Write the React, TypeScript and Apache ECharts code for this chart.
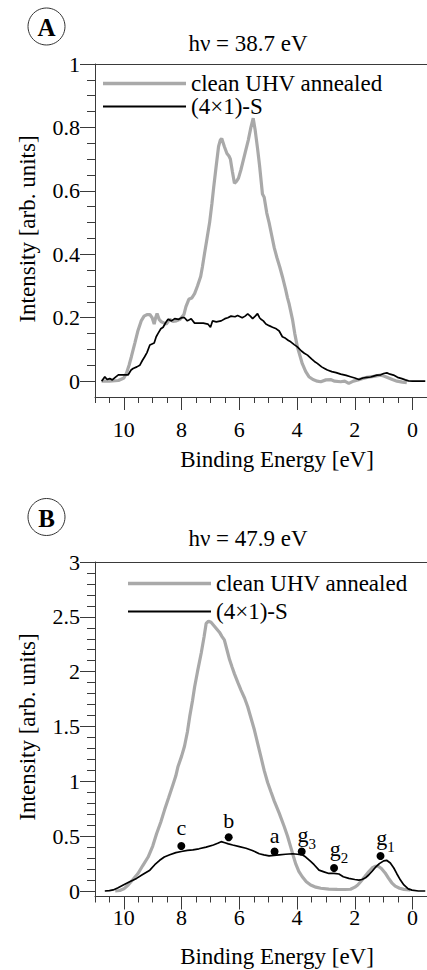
import React, { useEffect, useRef } from 'react';
import * as echarts from 'echarts';

const FONT = 'Liberation Serif, Times New Roman, Times, serif';
const GRAY = '#a9a9a9';
const AXIS = '#3a3a3a';

const seriesNames = ['clean UHV annealed', '(4×1)-S'];
const photonTitles = ['hν = 38.7 eV', 'hν = 47.9 eV'];
const panelLetters = ['A', 'B'];

const xMajorTicks = [0, 2, 4, 6, 8, 10];
const yMajorTicksA = [0, 0.2, 0.4, 0.6, 0.8, 1];
const yMajorTicksB = [0, 0.5, 1, 1.5, 2, 2.5, 3];

// Panel A, hv = 38.7 eV : [binding energy, intensity]
const cleanA: [number, number][] = [
  [10.77, 0.0], [10.5, 0.0], [10.19, 0.002], [10.0, 0.01], [9.91, 0.025], [9.82, 0.05], [9.74, 0.077],
  [9.62, 0.12], [9.51, 0.16], [9.4, 0.19], [9.3, 0.205], [9.2, 0.21], [9.1, 0.21], [9.02, 0.2],
  [8.95, 0.18], [8.9, 0.2], [8.85, 0.213], [8.78, 0.195], [8.7, 0.187], [8.6, 0.183], [8.53, 0.18],
  [8.45, 0.19], [8.41, 0.195], [8.3, 0.188], [8.18, 0.19], [8.05, 0.195], [7.92, 0.21], [7.85, 0.235],
  [7.75, 0.258], [7.65, 0.262], [7.55, 0.276], [7.45, 0.3], [7.34, 0.33], [7.28, 0.36], [7.21, 0.4],
  [7.12, 0.45], [7.03, 0.5], [6.95, 0.56], [6.89, 0.61], [6.8, 0.68], [6.72, 0.74], [6.66, 0.76],
  [6.61, 0.765], [6.52, 0.74], [6.43, 0.718], [6.36, 0.71], [6.31, 0.7], [6.24, 0.66], [6.17, 0.624],
  [6.1, 0.63], [6.03, 0.64], [5.95, 0.665], [5.89, 0.687], [5.8, 0.72], [5.69, 0.76], [5.6, 0.8],
  [5.52, 0.829], [5.45, 0.79], [5.37, 0.734], [5.3, 0.68], [5.2, 0.59], [5.14, 0.58], [5.05, 0.53],
  [4.97, 0.5], [4.88, 0.46], [4.79, 0.42], [4.7, 0.39], [4.6, 0.36], [4.51, 0.33], [4.4, 0.29],
  [4.33, 0.262], [4.28, 0.245], [4.22, 0.22], [4.16, 0.195], [4.08, 0.15], [3.99, 0.108], [3.9, 0.08],
  [3.82, 0.055], [3.7, 0.03], [3.59, 0.014], [3.45, 0.005], [3.3, 0.0], [3.18, -0.002], [3.0, 0.004],
  [2.84, 0.005], [2.7, 0.0], [2.49, -0.002], [2.35, 0.0], [2.21, -0.007], [2.05, 0.0], [1.92, 0.003],
  [1.75, 0.008], [1.58, 0.012], [1.35, 0.015], [1.11, 0.019], [1.0, 0.016], [0.89, 0.012], [0.7, 0.005],
  [0.54, 0.0], [0.35, -0.003], [0.2, -0.005],
];
const sulfurA: [number, number][] = [
  [10.77, 0.0], [10.66, 0.014], [10.58, 0.005], [10.49, 0.008], [10.4, 0.004], [10.3, 0.012], [10.19, 0.02],
  [10.0, 0.02], [9.85, 0.02], [9.75, 0.035], [9.68, 0.04], [9.55, 0.045], [9.45, 0.05], [9.36, 0.065],
  [9.28, 0.077], [9.2, 0.09], [9.1, 0.114], [8.95, 0.12], [8.88, 0.14], [8.82, 0.15], [8.72, 0.165],
  [8.64, 0.17], [8.55, 0.185], [8.47, 0.195], [8.35, 0.19], [8.24, 0.197], [8.1, 0.195], [8.0, 0.2],
  [7.9, 0.2], [7.8, 0.19], [7.67, 0.197], [7.55, 0.183], [7.4, 0.183], [7.25, 0.183], [7.09, 0.18],
  [7.0, 0.17], [6.93, 0.19], [6.8, 0.187], [6.63, 0.19], [6.5, 0.197], [6.4, 0.2], [6.29, 0.205],
  [6.15, 0.203], [6.06, 0.207], [5.9, 0.2], [5.8, 0.205], [5.71, 0.212], [5.62, 0.205], [5.54, 0.197],
  [5.45, 0.205], [5.37, 0.213], [5.3, 0.2], [5.25, 0.195], [5.17, 0.19], [5.08, 0.18], [4.97, 0.175],
  [4.85, 0.17], [4.72, 0.165], [4.62, 0.158], [4.51, 0.14], [4.4, 0.135], [4.3, 0.128], [4.22, 0.124],
  [4.1, 0.115], [3.99, 0.108], [3.85, 0.095], [3.75, 0.088], [3.64, 0.082], [3.5, 0.07], [3.4, 0.062],
  [3.3, 0.056], [3.15, 0.045], [3.05, 0.04], [2.95, 0.035], [2.8, 0.03], [2.65, 0.027], [2.49, 0.022],
  [2.3, 0.018], [2.15, 0.014], [2.0, 0.01], [1.86, 0.005], [1.72, 0.01], [1.58, 0.012], [1.45, 0.013],
  [1.35, 0.016], [1.23, 0.019], [1.1, 0.02], [1.0, 0.024], [0.89, 0.026], [0.78, 0.022], [0.66, 0.019],
  [0.52, 0.012], [0.37, 0.008], [0.25, 0.004], [0.14, 0.001], [0.0, 0.0], [-0.2, 0.0], [-0.44, 0.0],
];

// Panel B, hv = 47.9 eV
const cleanB: [number, number][] = [
  [10.3, 0.0], [10.14, 0.005], [10.0, 0.02], [9.85, 0.055], [9.7, 0.1], [9.51, 0.16], [9.35, 0.23],
  [9.16, 0.31], [9.0, 0.41], [8.87, 0.52], [8.72, 0.63], [8.59, 0.74], [8.45, 0.85], [8.3, 0.97],
  [8.2, 1.05], [8.13, 1.13], [8.0, 1.23], [7.9, 1.32], [7.8, 1.45], [7.72, 1.59], [7.62, 1.74],
  [7.55, 1.86], [7.45, 2.0], [7.32, 2.17], [7.22, 2.32], [7.15, 2.44], [7.07, 2.46], [6.98, 2.45],
  [6.85, 2.41], [6.69, 2.36], [6.6, 2.32], [6.52, 2.29], [6.43, 2.2], [6.34, 2.11], [6.25, 2.04],
  [6.17, 1.98], [6.05, 1.9], [5.94, 1.83], [5.82, 1.76], [5.71, 1.68], [5.6, 1.58], [5.48, 1.47],
  [5.36, 1.34], [5.25, 1.22], [5.14, 1.1], [5.02, 0.99], [4.9, 0.9], [4.79, 0.82], [4.62, 0.71],
  [4.45, 0.59], [4.33, 0.5], [4.22, 0.4], [4.13, 0.32], [4.05, 0.25], [3.94, 0.18], [3.82, 0.13],
  [3.68, 0.085], [3.53, 0.055], [3.35, 0.035], [3.18, 0.025], [2.9, 0.018], [2.61, 0.015], [2.35, 0.014],
  [2.15, 0.016], [2.0, 0.035], [1.9, 0.055], [1.8, 0.085], [1.66, 0.13], [1.52, 0.176], [1.4, 0.21],
  [1.3, 0.225], [1.2, 0.228], [1.08, 0.205], [0.95, 0.165], [0.84, 0.12], [0.72, 0.075], [0.6, 0.045],
  [0.45, 0.025], [0.3, 0.015], [0.08, 0.01],
];
const sulfurB: [number, number][] = [
  [10.66, 0.0], [10.5, 0.003], [10.37, 0.01], [10.2, 0.03], [10.02, 0.055], [9.8, 0.085], [9.56, 0.115],
  [9.35, 0.15], [9.1, 0.19], [8.93, 0.24], [8.76, 0.28], [8.6, 0.31], [8.41, 0.33], [8.2, 0.35],
  [8.01, 0.36], [7.8, 0.37], [7.61, 0.375], [7.4, 0.385], [7.15, 0.4], [6.9, 0.42], [6.75, 0.435],
  [6.63, 0.45], [6.5, 0.44], [6.38, 0.43], [6.23, 0.42], [6.0, 0.405], [5.77, 0.39], [5.55, 0.37],
  [5.31, 0.34], [5.15, 0.33], [4.97, 0.32], [4.8, 0.325], [4.62, 0.33], [4.4, 0.335], [4.16, 0.34],
  [3.99, 0.335], [3.82, 0.33], [3.7, 0.31], [3.53, 0.27], [3.41, 0.24], [3.24, 0.19], [3.07, 0.175],
  [2.9, 0.16], [2.72, 0.16], [2.55, 0.155], [2.4, 0.13], [2.21, 0.115], [2.0, 0.105], [1.86, 0.1],
  [1.75, 0.105], [1.63, 0.12], [1.52, 0.146], [1.4, 0.18], [1.29, 0.215], [1.15, 0.25], [1.0, 0.275],
  [0.9, 0.28], [0.77, 0.255], [0.65, 0.21], [0.55, 0.16], [0.42, 0.1], [0.3, 0.055], [0.15, 0.02],
  [0.02, 0.008], [-0.2, 0.0], [-0.44, 0.0],
];

const markerNames = ['c', 'b', 'a', 'g3', 'g2', 'g1'];
const markerEnergy = [8.01, 6.37, 4.78, 3.84, 2.72, 1.11];
const markerIntensity = [0.41, 0.49, 0.36, 0.36, 0.21, 0.32];

function tickRange(from: number, to: number, step: number): number[] {
  const out: number[] = [];
  const n = Math.round((to - from) / step);
  for (let i = 0; i <= n; i++) out.push(Number((from + i * step).toFixed(4)));
  return out;
}

const X_MIN = -0.5;
const X_MAX = 11;
const xMinorTicks = tickRange(-0.5, 11, 0.5);

// legend icons: plain horizontal bars (gray thick, black thin)
const legendIcons = ['path://M0,0 H80 V3.2 H0 Z', 'path://M0,0 H80 V1.7 H0 Z'];

const panels = [
  { top: 64, height: 333, yMax: 1, yMajor: yMajorTicksA, yMinor: tickRange(0, 1, 0.05), clean: cleanA, sulfur: sulfurA,
    legendLeft: 103, legendTop: 72, legendGap: 0, titleY: 43, circleY: 26.5, yTitleY: 229, xTitleY: 459, xLabelMargin: 21 },
  { top: 562, height: 334.5, yMax: 3, yMajor: yMajorTicksB, yMinor: tickRange(0, 3, 0.1), clean: cleanB, sulfur: sulfurB,
    legendLeft: 128, legendTop: 572, legendGap: 5, titleY: 538, circleY: 517, yTitleY: 727, xTitleY: 956, xLabelMargin: 10 },
];

const markerOffsets: Record<string, number[]> = {
  c: [0, 0], b: [0, 2], a: [0, 3], g3: [5, 6], g2: [5, 4], g1: [5, 5],
};

function buildOption() {
  const grid: any[] = [];
  const xAxis: any[] = [];
  const yAxis: any[] = [];
  const series: any[] = [];
  const legend: any[] = [];
  const graphic: any[] = [];

  panels.forEach((p, i) => {
    grid.push({ left: 95, top: p.top, width: 333.5, height: p.height, containLabel: false });
    const xBase = {
      type: 'value', gridIndex: i, inverse: true, min: X_MIN, max: X_MAX,
      splitLine: { show: false },
    };
    xAxis.push({
      ...xBase, position: 'bottom',
      axisLine: { show: true, onZero: false, lineStyle: { color: AXIS, width: 1 } },
      axisTick: { show: true, inside: false, length: 13, customValues: xMajorTicks, lineStyle: { color: AXIS, width: 1 } },
      axisLabel: { show: true, customValues: xMajorTicks, margin: p.xLabelMargin, fontSize: 22, color: '#000', fontFamily: FONT },
    });
    xAxis.push({
      ...xBase, position: 'bottom',
      axisLine: { show: false, onZero: false },
      axisTick: { show: true, inside: false, length: 6, customValues: xMinorTicks, lineStyle: { color: AXIS, width: 1 } },
      axisLabel: { show: false },
    });
    xAxis.push({
      ...xBase, position: 'top',
      axisLine: { show: true, onZero: false, lineStyle: { color: AXIS, width: 1 } },
      axisTick: { show: false }, axisLabel: { show: false },
    });
    const yBase = { type: 'value', gridIndex: i, min: -0.05, max: p.yMax, splitLine: { show: false } };
    yAxis.push({
      ...yBase, position: 'left',
      axisLine: { show: true, onZero: false, lineStyle: { color: AXIS, width: 1 } },
      axisTick: { show: true, inside: false, length: 15, customValues: p.yMajor, lineStyle: { color: AXIS, width: 1 } },
      axisLabel: { show: true, customValues: p.yMajor, margin: 15, fontSize: 22, color: '#000', fontFamily: FONT },
    });
    yAxis.push({
      ...yBase, position: 'left',
      axisLine: { show: false, onZero: false },
      axisTick: { show: true, inside: false, length: 8, customValues: p.yMinor, lineStyle: { color: AXIS, width: 1 } },
      axisLabel: { show: false },
    });

    const xIdx = i * 3;
    const yIdx = i * 2;
    series.push({
      type: 'line', name: seriesNames[0], xAxisIndex: xIdx, yAxisIndex: yIdx, data: p.clean,
      symbol: 'none', showSymbol: false, color: GRAY, lineStyle: { color: GRAY, width: 3.2 }, z: 2,
    });
    series.push({
      type: 'line', name: seriesNames[1], xAxisIndex: xIdx, yAxisIndex: yIdx, data: p.sulfur,
      symbol: 'none', showSymbol: false, color: '#000', lineStyle: { color: '#000', width: 1.7 }, z: 3,
    });

    legend.push({
      orient: 'vertical', left: p.legendLeft, top: p.legendTop, itemWidth: 83, itemHeight: 14,
      itemGap: p.legendGap, selectedMode: false, padding: 0,
      data: seriesNames.map((n, k) => ({ name: n, icon: legendIcons[k] })),
      textStyle: { fontSize: 23, fontFamily: FONT, color: '#000', lineHeight: 22 },
    });

    graphic.push({
      type: 'circle', shape: { cx: 46.5, cy: p.circleY, r: 18.5 }, style: { fill: 'none', stroke: '#333', lineWidth: 1 },
    });
    graphic.push({
      type: 'text', x: 46.5, y: p.circleY + 1,
      style: { text: panelLetters[i], fontSize: 25, fontWeight: 'bold', fontFamily: FONT, fill: '#000', align: 'center', verticalAlign: 'middle' },
    });
    graphic.push({
      type: 'text', x: 248, y: p.titleY,
      style: { text: photonTitles[i], fontSize: 23, fontFamily: FONT, fill: '#000', align: 'center', verticalAlign: 'middle' },
    });
    graphic.push({
      type: 'text', x: 27, y: p.yTitleY, rotation: Math.PI / 2,
      style: { text: 'Intensity [arb. units]', fontSize: 23, fontFamily: FONT, fill: '#000', align: 'center', verticalAlign: 'middle' },
    });
    graphic.push({
      type: 'text', x: 277, y: p.xTitleY,
      style: { text: 'Binding Energy [eV]', fontSize: 23, fontWeight: 'normal', fontFamily: FONT, fill: '#000', align: 'center', verticalAlign: 'middle' },
    });
  });

  const markerData = markerNames.map((n, k) => {
    const isG = n.startsWith('g');
    return {
      value: [markerEnergy[k], markerIntensity[k]],
      label: {
        show: true, position: 'top', distance: isG ? 2 : 4,
        offset: markerOffsets[n],
        formatter: isG ? `{g|g}{s|${n.slice(1)}}` : n,
        fontSize: 22, fontFamily: FONT, color: '#000',
        rich: {
          g: { fontSize: 22, fontFamily: FONT, color: '#000', lineHeight: 28, verticalAlign: 'top' },
          s: { fontSize: 15, fontFamily: FONT, color: '#000', lineHeight: 15, verticalAlign: 'bottom' },
        },
      },
    };
  });
  series.push({
    type: 'scatter', name: 'features', xAxisIndex: 3, yAxisIndex: 2, data: markerData,
    symbol: 'circle', symbolSize: 8, itemStyle: { color: '#000', opacity: 1 }, z: 5,
  });

  return {
    animation: false,
    backgroundColor: '#fff',
    textStyle: { fontFamily: FONT },
    grid, xAxis, yAxis, series, legend, graphic,
  };
}

export default function App() {
  const ref = useRef<HTMLDivElement | null>(null);
  useEffect(() => {
    if (!ref.current) return;
    const chart = echarts.init(ref.current, undefined, { renderer: 'svg' });
    chart.setOption(buildOption() as any);
    return () => chart.dispose();
  }, []);
  return <div ref={ref} style={{ position: 'fixed', left: 0, top: 0, width: 427, height: 970 }} />;
}
